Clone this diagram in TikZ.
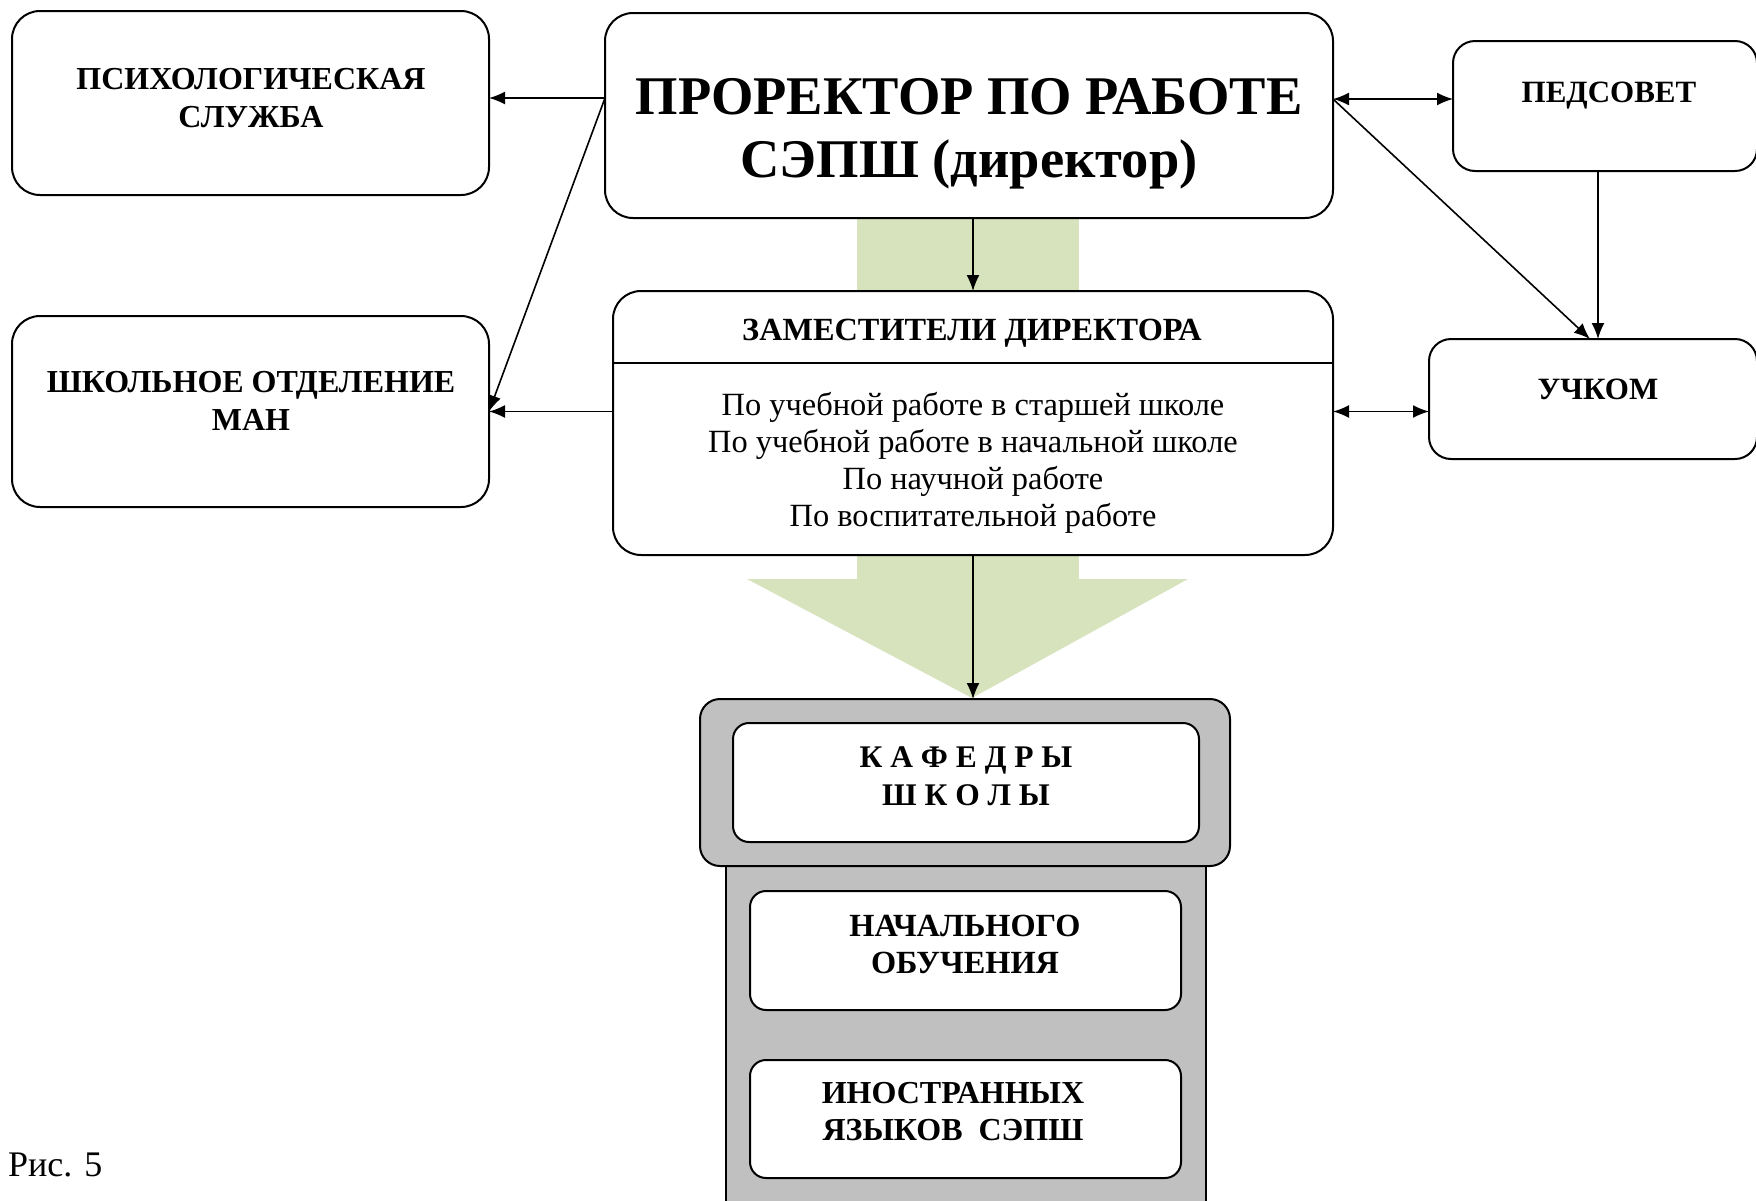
\documentclass[tikz,border=0pt]{standalone}
\usepackage{fontspec}
\setmainfont{Liberation Serif}
\usetikzlibrary{arrows.meta,calc}
\definecolor{bandgreen}{HTML}{D6E3BC}
\definecolor{colgray}{HTML}{C0C0C0}
\newcommand{\myfs}[2]{\fontsize{#1}{#2}\selectfont}
\begin{document}
\begin{tikzpicture}[x=1pt,y=-1pt,
 box/.style={draw, line width=2pt, rounded corners=28pt, fill=white, inner sep=0pt, outer sep=0pt},
 sbox/.style={box, rounded corners=22pt},
 ibox/.style={box, rounded corners=16pt},
 txt/.style={inner sep=0pt, align=center, font=\bfseries\myfs{31}{38}},
 rtxt/.style={inner sep=0pt, align=center, font=\myfs{32.4}{37}},
 arr/.style={line width=1.6pt, -{Latex[length=16pt,width=13pt]}},
 darr/.style={line width=1.6pt, {Latex[length=16pt,width=13pt]}-{Latex[length=16pt,width=13pt]}},
]
\useasboundingbox (0,0) rectangle (1756,1200);

% green background arrow
\fill[bandgreen] (857,200) rectangle (1079,580);
\fill[bandgreen] (747,579) -- (1188,579) -- (972,698) -- cycle;

% boxes
\node[box, minimum width=477pt, minimum height=184pt] (psy) at (250.5,103) {};
\node[box, minimum width=477pt, minimum height=191pt] (shk) at (250.5,411.5) {};
\node[box, minimum width=728pt, minimum height=205pt] (dir) at (969,115.5) {};
\node[box, minimum width=720pt, minimum height=264pt] (zam) at (973,423) {};
\node[sbox, minimum width=304pt, minimum height=130pt] (ped) at (1605,106) {};
\node[sbox, minimum width=328pt, minimum height=120pt] (uch) at (1593,399) {};

% column of departments
\node[draw, line width=2pt, fill=colgray, inner sep=0pt, minimum width=480pt, minimum height=350pt] (col) at (966,1041) {};
\node[box, fill=colgray, rounded corners=20pt, minimum width=530pt, minimum height=167pt] (kafo) at (965,782.5) {};
\node[ibox, minimum width=466pt, minimum height=119pt] (kaf) at (966,782.5) {};
\node[ibox, minimum width=431pt, minimum height=119pt] (nach) at (965.5,950.5) {};
\node[ibox, minimum width=431pt, minimum height=118pt] (inos) at (965.5,1119) {};

% divider in deputies box
\draw[line width=1.6pt] (zam.north west) ++(0,72) coordinate (zd1) -- ++(720,0) coordinate (zd2);

% texts
\node[txt, font=\bfseries\myfs{32}{38}] (psyt) at (251,98) {ПСИХОЛОГИЧЕСКАЯ\\СЛУЖБА};
\node[txt, font=\bfseries\myfs{32}{38}] (shkt) at (251,401) {ШКОЛЬНОЕ ОТДЕЛЕНИЕ\\МАН};
\node[txt, font=\bfseries\myfs{54.5}{63}] (dirt) at (969,133.5) {ПРОРЕКТОР ПО РАБОТЕ\\СЭПШ (директор)};
\node[txt] (pedt) at (1609,95.5) {ПЕДСОВЕТ};
\node[txt] (ucht) at (1598,389) {УЧКОМ};
\node[txt, font=\bfseries\myfs{32.3}{38}] (zamt) at (972,333.5) {ЗАМЕСТИТЕЛИ ДИРЕКТОРА};
\node[rtxt] (zaml) at (973,463) {По учебной работе в старшей школе\\По учебной работе в начальной школе\\По научной работе\\По воспитательной работе};
\node[txt, font=\bfseries\myfs{31.5}{38}] (kaft) at (966,776) {К А Ф Е Д Р Ы\\Ш К О Л Ы};
\node[txt, font=\bfseries\myfs{32.3}{37}] (nacht) at (965,944) {НАЧАЛЬНОГО\\ОБУЧЕНИЯ};
\node[txt, font=\bfseries\myfs{32}{37}] (inost) at (953,1111.5) {ИНОСТРАННЫХ\\ЯЗЫКОВ\ \ СЭПШ};
\node[inner sep=0pt, anchor=west, font=\myfs{36}{42}] (fig) at (8,1165) {Рис. 5};

% connectors
\path (dir.west) ++(0,-17.5) coordinate (d1);
\path (dir.east) ++(0,-16.5) coordinate (d2);
\coordinate (vx) at (1598,0);
\draw[arr] (d1) -- (psy.east |- d1);
\draw[arr] (d1) -- (shk.east);
\draw[arr] (zam.west |- shk.east) -- (shk.east);
\draw[darr] (d2) -- (ped.west |- d2);
\draw[arr] (d2) -- ($(uch.north)+(-3,0)$);
\draw[arr] (ped.south -| vx) -- (uch.north -| vx);
\draw[darr] (zam.east |- shk.east) -- (uch.west |- shk.east);
\draw[arr] (dir.south -| zam.north) -- (zam.north);
\draw[arr] (zam.south) -- (kafo.north -| zam.south);
\end{tikzpicture}
\end{document}
